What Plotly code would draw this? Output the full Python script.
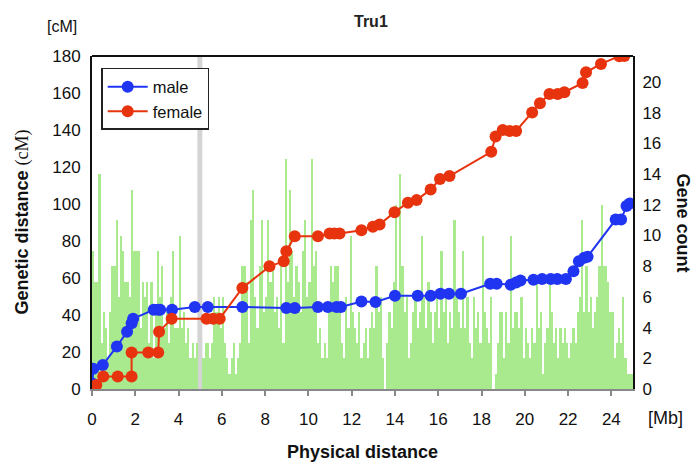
import numpy as np
import plotly.graph_objects as go

# ---- data ----
male_x = [0.02, 0.06, 0.5, 1.15, 1.62, 1.83, 1.9, 2.85, 3.05, 3.15, 3.7, 4.75, 5.35, 6.95,
          8.98, 9.37, 10.44, 10.9, 11.3, 11.5, 12.45, 13.1, 14.0, 15.05, 15.65, 16.1, 16.5,
          17.05, 18.4, 18.7, 19.35, 19.6, 19.8, 20.4, 20.8, 21.2, 21.5, 21.9, 22.25, 22.5,
          22.75, 22.9, 24.2, 24.45, 24.7, 24.85]
male_y = [3, 11, 13, 23, 31, 35.5, 38, 42.8, 42.8, 42.8, 42.8, 44.3, 44.3, 44.3,
          43.8, 43.8, 44.3, 44.3, 44.3, 44.3, 47.3, 47, 50.4, 50.4, 50.4, 51.5, 51.5,
          51.5, 56.9, 56.9, 56.4, 57.6, 58.6, 59.1, 59.5, 59.5, 59.5, 59.5, 63.6, 69,
          70.9, 71.5, 91.6, 91.6, 98.9, 100.3]

female_x = [0.02, 0.2, 0.52, 1.19, 1.83, 1.83, 2.6, 3.06, 3.1, 3.68, 5.29, 5.6, 5.9, 6.95,
            8.2, 8.86, 8.98, 9.37, 10.44, 10.98, 11.2, 11.44, 12.45, 12.98, 13.29, 13.98,
            14.6, 15.0, 15.65, 16.08, 16.52, 18.45, 18.65, 18.98, 19.3, 19.6, 20.34, 20.7,
            21.14, 21.52, 21.83, 22.67, 22.83, 23.52, 24.37, 24.6]
female_y = [0, 2.2, 6.7, 6.7, 6.7, 19.7, 19.7, 19.7, 31, 38, 38, 38, 38, 54.6,
            66.3, 69, 74.5, 82.6, 82.6, 84, 84, 84, 85.8, 87.7, 88.9, 95.6,
            100.7, 102.1, 107.9, 113.5, 115.1, 128.2, 136.5, 140, 139.5, 139.5, 149.5, 154.5,
            159.4, 159.4, 160.4, 165.4, 171.2, 175.7, 179.9, 180]

# gene counts per 0.1 Mb bin (0 - 25 Mb)
gene_count = [
    9, 7, 7, 14, 3, 5, 4, 2, 5, 8,
    8, 11, 6, 10, 9, 7, 7, 6, 13, 9,
    9, 9, 4, 7, 6, 7, 3, 7, 2, 5,
    9, 6, 8, 4, 5, 3, 6, 9, 4, 4,
    10, 4, 5, 3, 4, 2, 3, 2, 3, 0,
    0, 2, 3, 3, 2, 3, 6, 5, 6, 4,
    6, 3, 2, 1, 2, 3, 1, 2, 3, 8,
    8, 7, 3, 11, 13, 6, 4, 8, 11, 5,
    6, 11, 7, 8, 5, 6, 4, 8, 3, 15,
    7, 13, 9, 6, 8, 7, 5, 9, 11, 6,
    7, 15, 8, 9, 3, 4, 2, 3, 2, 5,
    8, 7, 8, 8, 5, 3, 2, 6, 4, 10,
    5, 4, 3, 5, 2, 3, 4, 2, 4, 5,
    4, 8, 5, 6, 2, 0, 3, 5, 4, 7,
    12, 6, 14, 8, 5, 6, 2, 3, 5, 6,
    4, 5, 10, 6, 4, 7, 5, 3, 5, 6,
    4, 9, 5, 6, 3, 5, 4, 11, 6, 5,
    4, 9, 4, 6, 3, 2, 6, 4, 5, 3,
    10, 5, 4, 3, 6, 0, 1, 3, 5, 5,
    2, 5, 3, 10, 4, 5, 5, 4, 6, 2,
    4, 3, 2, 4, 3, 7, 4, 5, 1, 3,
    4, 7, 5, 3, 4, 2, 4, 3, 4, 3,
    2, 3, 4, 3, 5, 6, 11, 5, 8, 5,
    6, 4, 5, 6, 8, 12, 8, 8, 7, 5,
    5, 2, 3, 4, 3, 6, 2, 1, 1, 1,
]
bin_size = 0.1
bin_centers = np.arange(len(gene_count)) * bin_size + bin_size / 2

x_ticks = list(range(0, 25, 2))
title_text = "Tru1"

FONT = "Liberation Sans, Arial, sans-serif"
BLUE = "#2035f2"
RED = "#e8340e"
GREEN = "#aaea8e"

fig = go.Figure()

fig.add_trace(go.Bar(
    x=bin_centers, y=gene_count, width=bin_size,
    marker=dict(color=GREEN, line=dict(width=0)),
    showlegend=False, yaxis="y", hoverinfo="skip",
))

fig.add_trace(go.Scatter(
    x=male_x, y=male_y, mode="lines+markers", name="male",
    line=dict(color=BLUE, width=2), marker=dict(color=BLUE, size=12),
    yaxis="y2",
))
fig.add_trace(go.Scatter(
    x=female_x, y=female_y, mode="lines+markers", name="female",
    line=dict(color=RED, width=2), marker=dict(color=RED, size=12),
    yaxis="y2",
))

fig.update_layout(
    width=695, height=464,
    margin=dict(l=92, r=62, t=56, b=75),
    paper_bgcolor="white", plot_bgcolor="white",
    font=dict(family=FONT, size=17, color="#111"),
    bargap=0,
    showlegend=True,
    legend=dict(
        x=0.017, y=0.964, xanchor="left", yanchor="top",
        bordercolor="#222", borderwidth=1.5, bgcolor="white",
        font=dict(size=16.5, family=FONT),
        itemwidth=40,
    ),
    xaxis=dict(
        range=[0, 25], tickvals=x_ticks, showgrid=False, zeroline=False,
        showline=True, linecolor="#888", linewidth=1.5,
        ticks="outside", ticklen=5, tickcolor="#888", tickwidth=1.5,
        tickfont=dict(size=17), ticklabelstandoff=9,
    ),
    yaxis=dict(
        range=[0, 21.7], tickvals=list(range(0, 21, 2)), side="right",
        showgrid=False, zeroline=False, showline=True, linecolor="#111", linewidth=2,
        ticks="", tickfont=dict(size=17), ticklabelstandoff=4,
    ),
    yaxis2=dict(
        range=[0, 180], dtick=20, side="left", overlaying="y",
        showgrid=False, zeroline=False, showline=True, linecolor="#111", linewidth=2,
        ticks="", tickfont=dict(size=17), ticklabelstandoff=6,
    ),
    shapes=[
        dict(type="rect", xref="x", yref="paper", x0=4.87, x1=5.1, y0=0, y1=1,
             fillcolor="#d4d4d4", line=dict(width=0), layer="below"),
        dict(type="line", xref="paper", yref="paper", x0=0, x1=1, y0=1, y1=1,
             line=dict(color="#111", width=2)),
    ],
    annotations=[
        dict(text="<b>" + title_text + "</b>", xref="paper", yref="paper", x=0.515, y=1, yshift=35,
             showarrow=False, font=dict(size=16, color="#222"), xanchor="center", yanchor="middle"),
        dict(text="[cM]", xref="paper", yref="paper", x=0, xshift=-30, y=1, yshift=30,
             showarrow=False, font=dict(size=16), xanchor="center", yanchor="middle"),
        dict(text="[Mb]", xref="paper", yref="paper", x=1, xshift=32, y=0, yshift=-29,
             showarrow=False, font=dict(size=18), xanchor="center", yanchor="middle"),
        dict(text="<b>Genetic distance</b> <span style='font-family:Liberation Serif, Times New Roman, serif'>(cM)</span>",
             xref="paper", yref="paper", x=0, xshift=-70, y=0.5, textangle=-90,
             showarrow=False, font=dict(size=18), xanchor="center", yanchor="middle"),
        dict(text="<b>Gene count</b>", xref="paper", yref="paper", x=1, xshift=50, y=0.5,
             textangle=90, showarrow=False, font=dict(size=18), xanchor="center", yanchor="middle"),
        dict(text="<b>Physical distance</b>", xref="paper", yref="paper", x=0.5, y=0, yshift=-63,
             showarrow=False, font=dict(size=18), xanchor="center", yanchor="middle"),
    ],
)

fig.write_html("out.html", config={"displayModeBar": False},
               post_script="document.body.style.margin='0px';document.body.style.padding='0px';")
